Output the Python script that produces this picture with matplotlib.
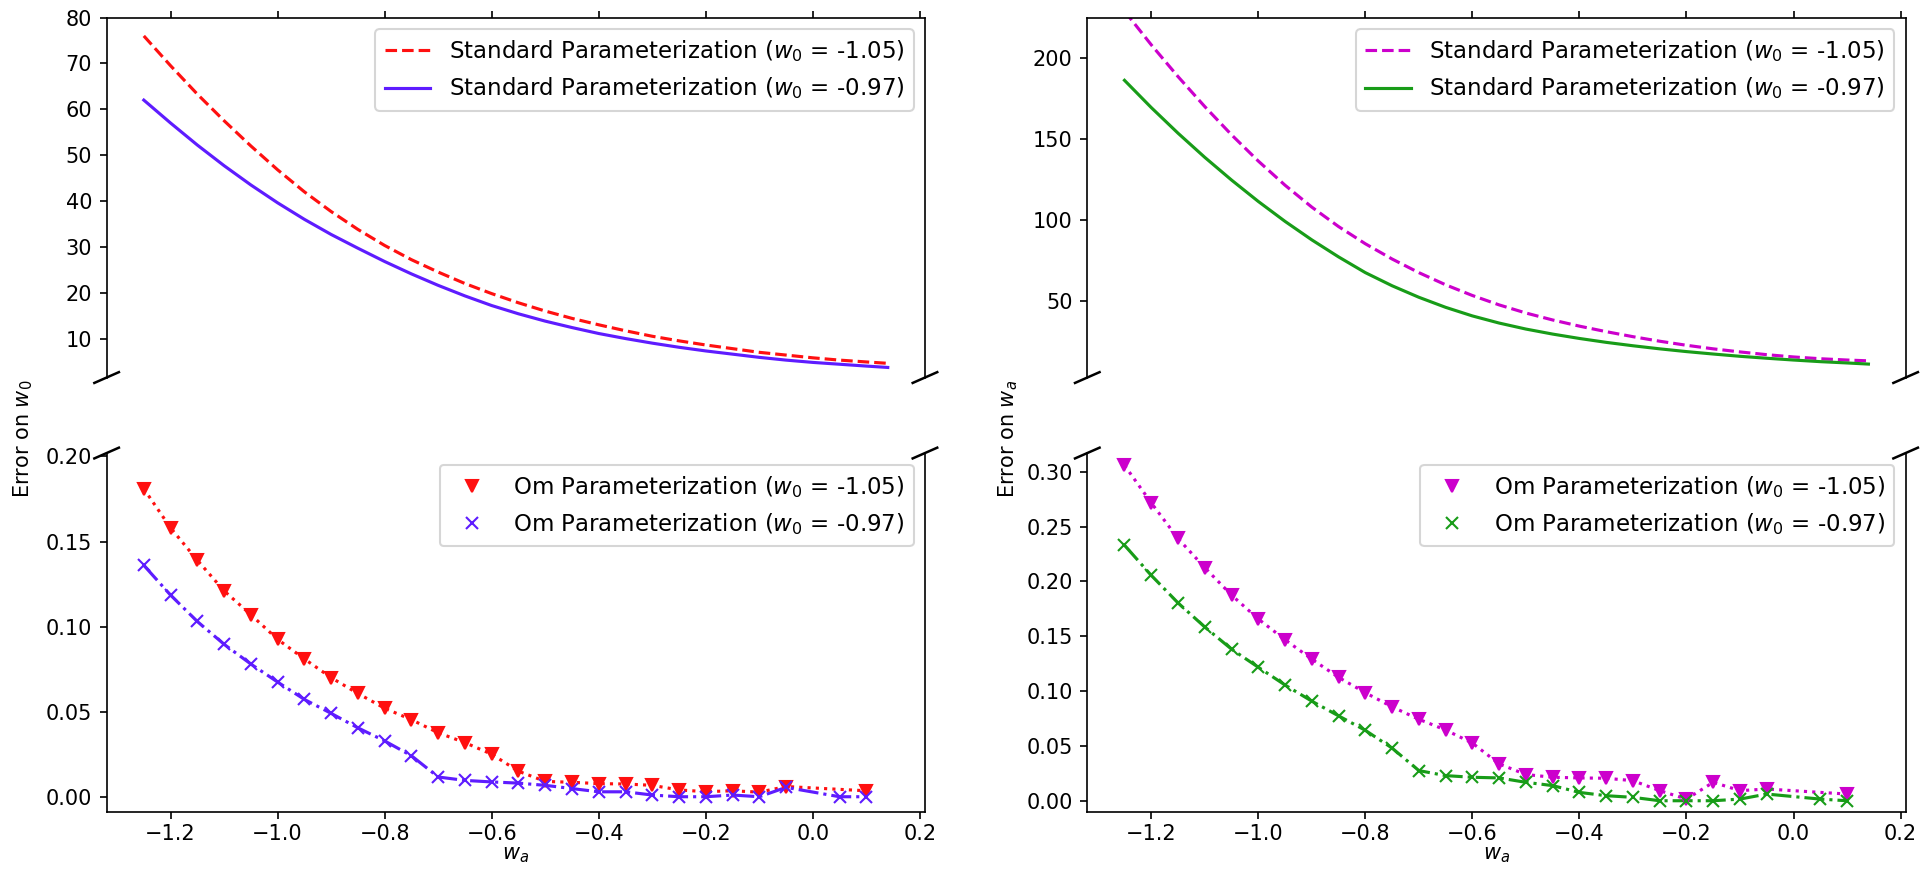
import matplotlib
matplotlib.use("Agg")
import matplotlib.pyplot as plt
from matplotlib.ticker import MultipleLocator

# ── data ──────────────────────────────────────────────────────────────────────
# standard parameterization curves (sampled along w_a)
wa_line = [-1.25, -1.2, -1.15, -1.1, -1.05, -1.0, -0.95, -0.9, -0.85, -0.8,
           -0.75, -0.7, -0.65, -0.6, -0.55, -0.5, -0.45, -0.4, -0.35, -0.3,
           -0.25, -0.2, -0.15, -0.1, -0.05, 0.0, 0.05, 0.1, 0.14]

std_w0_105 = [76.0, 69.5, 63.3, 57.5, 52.0, 46.8, 42.0, 37.7, 33.8, 30.3,
              27.2, 24.5, 22.0, 19.8, 17.8, 16.0, 14.4, 13.0, 11.7, 10.5,
              9.5, 8.6, 7.8, 7.0, 6.4, 5.8, 5.3, 4.9, 4.6]
std_w0_097 = [62.0, 57.0, 52.2, 47.7, 43.5, 39.6, 36.0, 32.7, 29.7, 26.8,
              24.1, 21.6, 19.3, 17.2, 15.4, 13.8, 12.4, 11.1, 10.0, 9.0,
              8.1, 7.3, 6.6, 5.9, 5.3, 4.8, 4.4, 4.0, 3.7]

std_wa_105 = [229.0, 208.2, 188.6, 170.1, 152.7, 136.5, 121.6, 108.1, 96.1, 85.5,
              76.1, 67.7, 60.2, 53.6, 47.8, 42.8, 38.5, 34.7, 31.3, 28.2,
              25.4, 22.9, 20.7, 18.8, 17.1, 15.7, 14.6, 13.8, 13.3]
std_wa_097 = [186.3, 169.5, 153.7, 138.8, 124.8, 111.6, 99.3, 87.9, 77.4, 67.7,
              59.6, 52.5, 46.3, 41.0, 36.6, 32.9, 29.8, 27.1, 24.7, 22.6,
              20.7, 19.0, 17.5, 16.1, 14.9, 13.8, 12.8, 12.0, 11.3]

# Om parameterization points
wa_pts_105 = [-1.25, -1.2, -1.15, -1.1, -1.05, -1.0, -0.95, -0.9, -0.85, -0.8,
              -0.75, -0.7, -0.65, -0.6, -0.55, -0.5, -0.45, -0.4, -0.35, -0.3,
              -0.25, -0.2, -0.15, -0.1, -0.05, 0.1]
wa_pts_097 = [-1.25, -1.2, -1.15, -1.1, -1.05, -1.0, -0.95, -0.9, -0.85, -0.8,
              -0.75, -0.7, -0.65, -0.6, -0.55, -0.5, -0.45, -0.4, -0.35, -0.3,
              -0.25, -0.2, -0.15, -0.1, -0.05, 0.05, 0.1]

om_w0_105 = [0.181, 0.158, 0.139, 0.121, 0.107, 0.0925, 0.081, 0.070, 0.0607, 0.052,
             0.0453, 0.0376, 0.0318, 0.025, 0.0150, 0.0090, 0.0085, 0.0077, 0.0075, 0.0067,
             0.0040, 0.0030, 0.0035, 0.0027, 0.0060, 0.0035]
om_w0_097 = [0.136, 0.1185, 0.103, 0.0896, 0.078, 0.0674, 0.0572, 0.049, 0.0405, 0.0328,
             0.0241, 0.0116, 0.0096, 0.0087, 0.0080, 0.0067, 0.0048, 0.0029, 0.0029, 0.0010,
             0.0, 0.0, 0.0010, 0.0, 0.0055, 0.0, 0.0]

om_wa_105 = [0.3058, 0.2716, 0.2391, 0.2125, 0.1875, 0.1657, 0.1468, 0.1291, 0.1125, 0.0985,
             0.0856, 0.0743, 0.0645, 0.0526, 0.0336, 0.0239, 0.0214, 0.0208, 0.0205, 0.0183,
             0.0092, 0.0015, 0.0168, 0.0092, 0.0107, 0.0061]
om_wa_097 = [0.2330, 0.2055, 0.1804, 0.1584, 0.1382, 0.1217, 0.1055, 0.0908, 0.0774, 0.0642,
             0.0480, 0.0275, 0.0229, 0.0214, 0.0208, 0.0168, 0.0138, 0.0076, 0.0046, 0.0031,
             0.0, 0.0, 0.0, 0.0015, 0.0061, 0.0015, 0.0]

lab_std_105 = "Standard Parameterization ($w_0$ = -1.05)"
lab_std_097 = "Standard Parameterization ($w_0$ = -0.97)"
lab_om_105 = "Om Parameterization ($w_0$ = -1.05)"
lab_om_097 = "Om Parameterization ($w_0$ = -0.97)"

BLUE = "#5e1cff"
GREEN = "#189c18"
MAGENTA = "#cc00cc"
RED = "#ff1010"

fig = plt.figure(figsize=(1921 / 150, 878 / 150), dpi=150)

# axes boxes: [left, bottom, width, height] in figure fractions
top_l = fig.add_axes([0.0555, 0.570, 0.426, 0.410])
bot_l = fig.add_axes([0.0555, 0.0755, 0.426, 0.4085], sharex=top_l)
top_r = fig.add_axes([0.566, 0.570, 0.426, 0.410])
bot_r = fig.add_axes([0.566, 0.0755, 0.426, 0.4085], sharex=top_r)

# ── left column: error on w0 ──────────────────────────────────────────────────
top_l.plot(wa_line, std_w0_105, "--", color=RED, label=lab_std_105)
top_l.plot(wa_line, std_w0_097, "-", color=BLUE, label=lab_std_097)
top_l.set_ylim(1.5, 80)
top_l.yaxis.set_major_locator(MultipleLocator(10))

bot_l.plot(wa_pts_105, om_w0_105, ":", color=RED)
bot_l.plot(wa_pts_097, om_w0_097, "-.", color=BLUE)
bot_l.plot(wa_pts_105, om_w0_105, "v", color=RED, ls="none", label=lab_om_105)
bot_l.plot(wa_pts_097, om_w0_097, "x", color=BLUE, ls="none", label=lab_om_097)
bot_l.set_ylim(-0.0088, 0.202)
bot_l.yaxis.set_major_locator(MultipleLocator(0.05))

# ── right column: error on wa ─────────────────────────────────────────────────
top_r.plot(wa_line, std_wa_105, "--", color=MAGENTA, label=lab_std_105)
top_r.plot(wa_line, std_wa_097, "-", color=GREEN, label=lab_std_097)
top_r.set_ylim(3, 225)
top_r.yaxis.set_major_locator(MultipleLocator(50))

bot_r.plot(wa_pts_105, om_wa_105, ":", color=MAGENTA)
bot_r.plot(wa_pts_097, om_wa_097, "-.", color=GREEN)
bot_r.plot(wa_pts_105, om_wa_105, "v", color=MAGENTA, ls="none", label=lab_om_105)
bot_r.plot(wa_pts_097, om_wa_097, "x", color=GREEN, ls="none", label=lab_om_097)
bot_r.set_ylim(-0.010, 0.317)
bot_r.yaxis.set_major_locator(MultipleLocator(0.05))

# ── broken-axis styling ───────────────────────────────────────────────────────
d = 0.015
for top, bot in [(top_l, bot_l), (top_r, bot_r)]:
    top.set_xlim(-1.3195, 0.2095)
    top.xaxis.set_major_locator(MultipleLocator(0.2))
    top.spines["bottom"].set_visible(False)
    bot.spines["top"].set_visible(False)
    top.xaxis.tick_top()
    top.tick_params(labeltop=False)
    bot.xaxis.tick_bottom()
    bot.tick_params(axis="x", pad=2.5)
    top.legend(loc="upper right", fontsize=11)
    bot.legend(loc="upper right", fontsize=11)
    bot.set_xlabel("$w_a$", labelpad=0.5)

    kw = dict(transform=top.transAxes, color="k", clip_on=False, lw=1.2)
    top.plot((-d, +d), (-d, +d), **kw)
    top.plot((1 - d, 1 + d), (-d, +d), **kw)
    kw.update(transform=bot.transAxes)
    bot.plot((-d, +d), (1 - d, 1 + d), **kw)
    bot.plot((1 - d, 1 + d), (1 - d, 1 + d), **kw)

fig.text(0.012, 0.5, "Error on $w_0$", rotation="vertical", ha="center", va="center")
fig.text(0.5247, 0.5, "Error on $w_a$", rotation="vertical", ha="center", va="center")

fig.savefig("out.png", dpi=150)
